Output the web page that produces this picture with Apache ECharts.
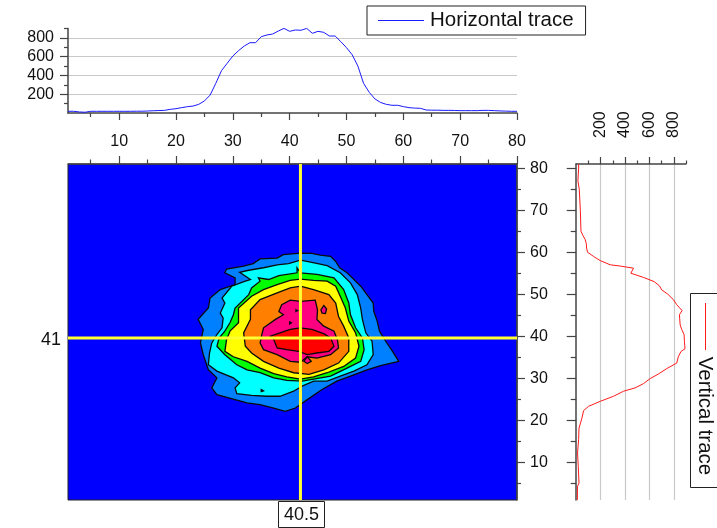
<!DOCTYPE html>
<html>
<head>
<meta charset="utf-8">
<style>html,body{margin:0;padding:0;background:#fff}#c{width:717px;height:528px}</style>
<script src="https://cdn.jsdelivr.net/npm/echarts@6/dist/echarts.min.js"></script>
</head>
<body>
<div id="c"></div>
<script>
const colTicks = [10,20,30,40,50,60,70,80];
const colMinor = [5,15,25,35,45,55,65,75];
const valueTicks = [200,400,600,800];
const valueMinor = [100,300,500,700,900];

const horizontalCol = [1,2,3,4,5,6,7,8,9,10,11,12,13,14,15,16,17,18,19,20,21,22,23,24,25,26,27,28,29,30,31,32,33,34,35,36,37,38,39,40,41,42,43,44,45,46,47,48,49,50,51,52,53,54,55,56,57,58,59,60,61,62,63,64,65,66,67,68,69,70,71,72,73,74,75,76,77,78,79,80];
const horizontalValue = [18,18,11,8,18,18,18,18,18,18,18,18,19,19,21,24,26,28,39,46,57,67,74,92,128,190,315,450,528,606,663,712,748,748,812,830,840,872,900,869,883,880,900,848,869,858,819,819,759,695,620,500,316,220,150,112,92,82,82,68,57,52,50,32,30,30,28,28,27,25,25,25,25,28,28,25,22,20,18,18];

const verticalRow = [81,80,77,75,70,65,64,63,62,61,60,59,58,57,56.7,56.2,55,54,53,52,51,50,48.7,47.5,46.1,45.1,42.7,41.6,40.4,38.8,37,36.4,35.2,33.6,32.3,31,29.9,28.7,27.7,26.9,25.7,24.5,23.3,22.3,20.5,18.1,15.4,12.2,9,5,4.3,1];
const verticalValue = [20,20,14,25,34,39,55,74,83,85,93,142,197,279,361,470,448,551,639,682,702,751,797,824,868,846,852,865,884,887,892,860,838,824,743,674,606,551,483,388,306,197,101,61,47,23,20,11,17,23,11,9];

const level1 = [[41.9,59.8],[43.9,59.7],[45.4,59.3],[47.2,59.0],[48.1,57.8],[48.8,56.3],[50.1,55.1],[51.0,53.9],[52.5,51.9],[53.6,49.9],[54.7,47.9],[54.8,45.9],[55.4,43.6],[55.8,41.2],[56.9,38.8],[58.1,36.4],[59.2,34.0],[56.0,33.0],[53.6,32.0],[50.7,30.5],[48.3,29.3],[45.7,27.3],[43.1,24.9],[41.0,22.9],[39.2,22.1],[37.2,22.9],[34.8,23.7],[32.5,24.1],[30.4,24.9],[27.2,26.1],[26.3,27.7],[27.2,30.1],[25.7,32.0],[24.8,35.6],[24.3,38.4],[24.8,41.6],[23.9,44.0],[25.7,46.7],[26.0,49.1],[27.8,51.1],[30.4,52.3],[30.4,53.9],[28.6,55.1],[28.9,56.0],[31.9,56.7],[33.6,57.3],[34.8,58.4],[37.8,58.6],[38.9,59.4]];
const level2 = [[41.9,58.1],[43.9,57.6],[46.6,56.8],[48.9,55.1],[50.7,52.7],[51.9,49.9],[52.5,46.7],[52.8,44.0],[53.4,40.8],[54.5,38.8],[54.7,35.6],[53.6,33.2],[51.3,31.7],[48.9,30.5],[46.6,29.3],[44.2,29.3],[42.2,28.1],[40.7,26.9],[38.3,25.7],[36.0,25.7],[33.3,25.9],[30.7,26.3],[30.4,27.7],[31.2,28.9],[30.1,30.1],[27.2,31.7],[25.7,33.2],[25.9,36.0],[26.3,38.4],[27.2,40.4],[28.1,42.0],[28.3,44.3],[27.8,45.5],[28.6,47.9],[28.1,49.1],[29.8,51.9],[32.2,53.1],[33.1,53.5],[31.2,55.2],[32.8,55.7],[35.4,56.3],[37.8,57.0],[39.8,57.3]];
const level3 = [[41.3,56.3],[41.9,55.1],[44.8,54.7],[47.8,53.9],[49.5,51.1],[50.4,47.9],[50.7,45.1],[51.6,42.0],[52.8,39.6],[53.1,36.8],[52.5,34.0],[50.1,32.4],[47.2,30.5],[44.2,29.8],[42.2,29.3],[39.5,29.5],[37.2,30.1],[34.8,31.3],[32.5,32.0],[30.7,33.2],[28.6,35.6],[27.2,37.6],[27.6,39.6],[28.6,41.2],[29.5,43.2],[30.1,45.1],[30.4,46.7],[32.8,49.9],[33.3,51.5],[34.8,53.1],[34.5,53.9],[36.3,53.5],[38.1,54.4],[41.3,55.1]];
const level4 = [[41.9,53.6],[44.2,53.3],[46.6,53.1],[48.1,51.9],[48.9,49.5],[49.8,46.7],[50.4,43.6],[51.6,40.8],[52.2,37.6],[51.6,34.8],[49.5,32.8],[46.6,31.3],[44.2,30.3],[41.9,29.8],[39.5,30.3],[37.2,31.1],[34.8,32.4],[32.5,34.0],[30.1,35.1],[28.6,36.4],[28.9,39.2],[29.5,41.2],[31.0,43.2],[31.0,46.7],[33.3,49.5],[35.4,51.1],[37.8,52.3],[40.1,53.3]];
const level5 = [[41.9,51.9],[44.2,51.1],[46.9,49.9],[48.1,47.9],[48.6,44.7],[49.5,42.4],[50.4,39.6],[50.4,36.4],[48.6,33.6],[46.0,32.0],[43.4,30.9],[40.7,31.3],[38.1,32.4],[35.4,34.0],[33.3,36.0],[32.2,37.6],[31.9,40.8],[33.1,44.0],[33.1,46.3],[34.8,48.7],[37.8,50.3],[40.1,51.5]];
const level6 = [[41.9,48.3],[44.5,48.6],[44.9,46.3],[44.8,44.0],[46.0,42.4],[47.8,41.2],[48.4,39.2],[48.6,37.2],[47.2,35.6],[44.8,34.8],[43.1,35.1],[41.9,33.8],[40.1,34.0],[37.8,35.6],[35.4,36.8],[34.8,38.4],[35.1,40.4],[35.4,42.0],[37.5,44.0],[38.9,45.1],[38.1,45.9],[38.6,47.5],[40.1,48.6]];
const level6b = [[46.0,47.3],[46.5,46.5],[46.3,45.4],[45.7,45.5],[45.5,46.3]];
const level6c = [[43.1,35.1],[43.8,34.0],[43.1,33.5],[42.5,34.0]];
const level7 = [[41.9,42.0],[43.9,41.6],[46.0,40.6],[47.2,39.6],[47.8,37.6],[46.9,36.4],[44.8,36.0],[43.1,35.6],[41.6,36.4],[39.5,36.8],[37.8,37.2],[37.2,39.2],[36.6,40.0],[38.3,40.8],[40.1,41.6]];
const speckA = [[35.0,27.3],[35.4,27.0],[35.0,26.8]];
const speckB = [[41.1,46.3],[41.4,46.1],[41.1,45.9]];
const speckC = [[40.0,43.4],[40.3,43.2],[40.0,42.9]];

const contourPolygons = [level1,level2,level3,level4,level5,level6,level6b,level7,level6c,speckA,speckB,speckC];
const contourFills = ['#0080FF','#00FFFF','#00FF00','#FFFF00','#FF8000','#FF0080','#FF0080','#FF0000','#FF0080','#0080FF','#FF8000','#FF8000'];

const crossCol = 41.9;
const crossRow = 39.6;

const font = 'Liberation Sans, Arial, sans-serif';
const ink = '#111';
const axisInk = '#444';
const lineAxis = {show:true,onZero:false,lineStyle:{color:axisInk,width:1.5}};
const noLine = {show:false};
const tick = (vals,len)=>({show:true,customValues:vals,length:len,lineStyle:{color:axisInk,width:1.2}});
const label = (vals,extra)=>Object.assign({show:true,customValues:vals,color:ink,fontSize:16,fontFamily:font,hideOverlap:false},extra);

function axis(gridIndex,position,min,max,vals,len,opts){
  return Object.assign({type:'value',gridIndex,position,min,max,axisLine:noLine,axisTick:tick(vals,len),axisLabel:{show:false},splitLine:{show:false}},opts||{});
}
const split = {show:true,lineStyle:{color:'#c9c9c9',width:1.2}};

const option = {
  animation:false,
  backgroundColor:'#fff',
  legend:{
    data:[{name:'Horizontal trace',icon:'rect'}],
    left:367,top:6,
    orient:'horizontal',
    padding:[4,12,4,11],
    itemWidth:46,itemHeight:1,itemGap:0,
    borderColor:'#222',borderWidth:1,
    textStyle:{color:ink,fontSize:20.5,fontFamily:font,padding:[0,0,0,1]}
  },
  grid:[
    {left:68,top:28.4,width:449,height:84.6},
    {left:68,top:164,width:449,height:336,show:true,backgroundColor:'#0000FF',borderColor:'#222',borderWidth:1},
    {left:576.2,top:164,width:109.8,height:336}
  ],
  xAxis:[
    axis(0,'bottom',1,80,colTicks,7,{axisLine:lineAxis,axisLabel:label(colTicks,{margin:21})}),
    axis(0,'bottom',1,80,colMinor,4),
    axis(1,'top',1,80,colTicks,8,{axisLine:lineAxis}),
    axis(1,'top',1,80,colMinor,4.5),
    axis(2,'top',0,900,valueTicks,7,{axisLine:lineAxis,splitLine:split,axisLabel:label(valueTicks,{rotate:-90,margin:26})}),
    axis(2,'top',0,900,valueMinor,3.5)
  ],
  yAxis:[
    axis(0,'left',0,900,valueTicks,8,{axisLine:lineAxis,splitLine:split,axisLabel:label(valueTicks,{margin:14})}),
    axis(0,'left',0,900,valueMinor,4),
    axis(1,'right',1,81,colTicks,8,{axisLine:lineAxis,axisLabel:label(colTicks,{margin:13})}),
    axis(1,'right',1,81,colMinor,4),
    axis(2,'left',1,81,colTicks,9.5,{axisLine:lineAxis}),
    axis(2,'left',1,81,colMinor,5.5)
  ],
  series:[
    {name:'Horizontal trace',type:'line',xAxisIndex:0,yAxisIndex:0,showSymbol:false,symbol:'none',
     lineStyle:{color:'#1a1aff',width:1},itemStyle:{color:'#1a1aff'},
     data:horizontalCol.map((c,i)=>[c,horizontalValue[i]])},
    {name:'Vertical trace',type:'line',xAxisIndex:4,yAxisIndex:4,showSymbol:false,symbol:'none',
     lineStyle:{color:'#ff1a1a',width:1},itemStyle:{color:'#ff1a1a'},
     data:verticalRow.map((r,i)=>[verticalValue[i],r])},
    {name:'Contours',type:'custom',xAxisIndex:2,yAxisIndex:2,clip:true,
     data:contourPolygons.map((p,i)=>[p[0][0],p[0][1],i]),
     encode:{x:0,y:1},
     renderItem:(params,api)=>{
       const i=params.dataIndex;
       return {type:'polygon',shape:{points:contourPolygons[i].map(p=>api.coord(p))},
         style:{fill:contourFills[i],stroke:'#0a0a0a',lineWidth:1.3}};
     }},
    {name:'Cross column',type:'line',xAxisIndex:2,yAxisIndex:2,symbol:'none',z:5,
     lineStyle:{color:'#FFFF33',width:3},data:[[crossCol,1],[crossCol,81]]},
    {name:'Cross row',type:'line',xAxisIndex:2,yAxisIndex:2,symbol:'none',z:5,
     lineStyle:{color:'#FFFF33',width:3},data:[[1,crossRow],[80,crossRow]]}
  ],
  graphic:[
    {type:'text',left:41,top:331,style:{text:'41',fill:ink,fontSize:18,fontFamily:font}},
    {type:'rect',shape:{x:278.5,y:501.5,width:46,height:26},style:{fill:'#fff',stroke:'#222',lineWidth:1}},
    {type:'text',x:301.5,y:515,style:{text:'40.5',fill:ink,fontSize:18,fontFamily:font,align:'center',verticalAlign:'middle'}},
    {type:'rect',shape:{x:690.5,y:293.5,width:40,height:194},style:{fill:'#fff',stroke:'#222',lineWidth:1}},
    {type:'line',shape:{x1:705.5,y1:303,x2:705.5,y2:350},style:{stroke:'#ff1a1a',lineWidth:1}},
    {type:'text',x:705,y:416,rotation:-Math.PI/2,style:{text:'Vertical trace',fill:ink,fontSize:20.5,fontFamily:font,align:'center',verticalAlign:'middle'}}
  ]
};
echarts.init(document.getElementById('c'),null,{renderer:'canvas'}).setOption(option);
</script>
</body>
</html>
